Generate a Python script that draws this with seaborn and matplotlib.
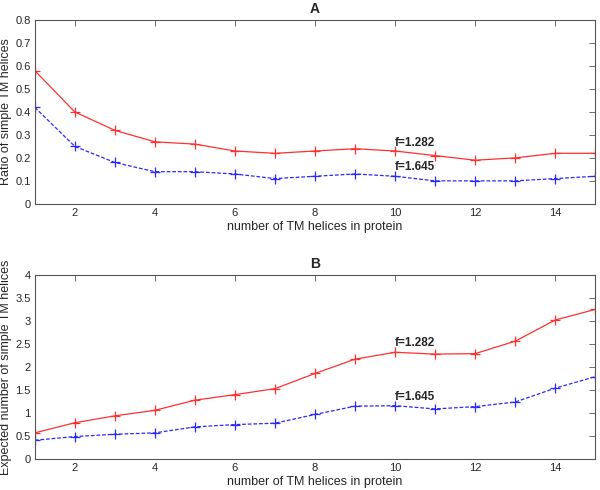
import pandas as pd
import matplotlib
matplotlib.use("Agg")
import matplotlib.pyplot as plt
import seaborn as sns

helices = list(range(1, 16))
ratio_f1282 = [0.58, 0.40, 0.32, 0.27, 0.26, 0.23, 0.22, 0.23, 0.24, 0.23, 0.21, 0.19, 0.20, 0.22, 0.22]
ratio_f1645 = [0.42, 0.25, 0.18, 0.14, 0.14, 0.13, 0.11, 0.12, 0.13, 0.12, 0.10, 0.10, 0.10, 0.11, 0.12]
expected_f1282 = [0.57, 0.79, 0.94, 1.06, 1.28, 1.40, 1.53, 1.86, 2.17, 2.32, 2.28, 2.29, 2.56, 3.02, 3.25]
expected_f1645 = [0.41, 0.49, 0.54, 0.57, 0.70, 0.75, 0.78, 0.97, 1.15, 1.16, 1.09, 1.14, 1.24, 1.54, 1.79]

sns.set_style("white")
plt.rcParams['font.family'] = ['Liberation Sans', 'DejaVu Sans']
plt.rcParams['xtick.direction'] = 'in'
plt.rcParams['ytick.direction'] = 'in'

fig = plt.figure(figsize=(6, 4.9), dpi=100)
ax_a = fig.add_axes([0.058, 0.584, 0.934, 0.375])
ax_b = fig.add_axes([0.058, 0.063, 0.934, 0.376])

red = '#ff3030'
blue = '#2a2aff'


def panel(ax, top, bottom, title, ylabel, ylim, yticks, lab_red, lab_blue):
    sns.lineplot(x=helices, y=top, ax=ax, color=red, lw=0.9, marker='+',
                 markersize=7, markeredgewidth=0.9, markeredgecolor=red)
    sns.lineplot(x=helices, y=bottom, ax=ax, color=blue, lw=0.9, marker='+',
                 markersize=7, markeredgewidth=0.9, markeredgecolor=blue,
                 linestyle=(0, (3, 1.5)))
    ax.set_xlim(1, 15)
    ax.set_ylim(*ylim)
    ax.set_xticks([2, 4, 6, 8, 10, 12, 14])
    ax.set_yticks(yticks)
    ax.set_yticklabels(['%g' % v for v in yticks])
    ax.tick_params(top=True, right=True, length=4, width=0.6, labelsize=8,
                   color='#555555', pad=3)
    for s in ax.spines.values():
        s.set_color('#555555')
        s.set_linewidth(0.8)
    ax.set_title(title, fontsize=10, fontweight='bold', pad=5)
    ax.set_xlabel('number of TM helices in protein', fontsize=9, labelpad=2)
    ax.set_ylabel(ylabel, fontsize=9)
    ax.yaxis.set_label_coords(-0.041, 0.5)
    ax.text(10, lab_red, 'f=1.282', fontsize=8.5, fontweight='bold', va='center')
    ax.text(10, lab_blue, 'f=1.645', fontsize=8.5, fontweight='bold', va='center')


panel(ax_a, ratio_f1282, ratio_f1645, 'A', 'Ratio of simple TM helices',
      (0, 0.8), [0, 0.1, 0.2, 0.3, 0.4, 0.5, 0.6, 0.7, 0.8], 0.265, 0.16)
panel(ax_b, expected_f1282, expected_f1645, 'B', 'Expected number of simple TM helices',
      (0, 4), [0, 0.5, 1, 1.5, 2, 2.5, 3, 3.5, 4], 2.52, 1.35)

fig.savefig('out.png', dpi=100)
